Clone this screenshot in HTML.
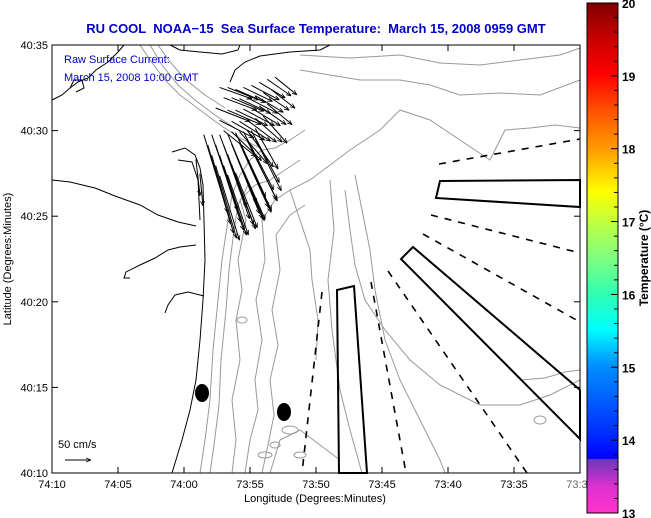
<!DOCTYPE html>
<html><head><meta charset="utf-8"><style>
body{margin:0;background:#fff;width:651px;height:518px;overflow:hidden}
svg{display:block;font-family:"Liberation Sans",sans-serif}
</style></head><body>
<svg id="c" width="651" height="518">
<rect x="0" y="0" width="651" height="518" fill="#fff"/>
<defs>
<linearGradient id="cb" x1="0" y1="1" x2="0" y2="0">
<stop offset="0" stop-color="#ff33cc"/><stop offset="0.05" stop-color="#e030d0"/>
<stop offset="0.105" stop-color="#6a3ab8"/><stop offset="0.107" stop-color="#0000ff"/>
<stop offset="0.16" stop-color="#0030ff"/><stop offset="0.29" stop-color="#0090ff"/>
<stop offset="0.36" stop-color="#00ffff"/><stop offset="0.43" stop-color="#30ffb0"/>
<stop offset="0.5" stop-color="#80ff80"/><stop offset="0.57" stop-color="#c0ff40"/>
<stop offset="0.63" stop-color="#ffff00"/><stop offset="0.71" stop-color="#ffa000"/>
<stop offset="0.79" stop-color="#ff5000"/><stop offset="0.86" stop-color="#ff0000"/>
<stop offset="0.93" stop-color="#c80000"/><stop offset="1" stop-color="#800000"/>
</linearGradient>
<marker id="ah" viewBox="0 0 10 10" refX="10" refY="5" markerWidth="5" markerHeight="5" orient="auto"><path d="M0,1 L10,5 L0,9" fill="none" stroke="#000" stroke-width="1.5"/></marker>
</defs>
<text x="316" y="33" text-anchor="middle" font-size="13" font-weight="bold" fill="#0000c8" style="white-space:pre" xml:space="preserve">RU COOL  NOAA−15  Sea Surface Temperature:  March 15, 2008 0959 GMT</text>
<g id="map" fill="none">
<g stroke="#999" stroke-width="1">
<polyline points="200,473 205,440 210,400 213,350 218,300 222,260 228,220 232,195 240,175 250,160 262,150 275,148 290,140 305,130"/>
<polyline points="210,473 214,445 219,405 221,360 226,310 229,270 234,230 238,205 248,185"/>
<polyline points="232,473 236,440 232,400 240,360 236,320 242,290 238,260 246,220 240,200 255,185 270,180 285,170 300,160"/>
<polyline points="245,473 250,440 258,410 255,380 262,340 256,300 265,260 262,220 275,200 290,190 310,180 330,165 350,150 380,130 400,110 430,120 460,140 490,160 505,130 530,128 555,125 580,128"/>
<polyline points="262,473 268,445 274,415 270,380 278,345 272,310 280,270 276,235 290,215 305,205"/>
<polyline points="140,45 150,60 165,80 180,95 200,110 220,125 240,138 260,148"/>
<polyline points="150,45 162,65 178,85 195,100 215,115 235,128"/>
<polyline points="158,45 170,62 186,80 205,95 225,108"/>
<polyline points="300,70 330,75 360,80 400,80 430,85 460,95 500,93 540,95 580,80"/>
<polyline points="300,55 350,58 400,55 440,63 480,65 520,60 560,55 580,48"/>
<polyline points="345,190 350,230 355,265 365,300 385,330 410,360 440,385 480,405 520,405 550,395 580,380"/>
<polyline points="330,180 334,230 328,280 332,330 340,390 350,430 362,473"/>
<polyline points="355,175 362,210 370,250 375,290 385,340 400,380 420,420 440,460 445,473"/>
<polyline points="290,190 300,220 310,250 312,280 318,320 316,360"/>
<polyline points="270,473 280,440 300,430 320,445 340,460"/>
<polyline points="520,380 545,378 565,372 580,370"/>
<ellipse cx="290" cy="430" rx="8" ry="4"/><ellipse cx="265" cy="455" rx="7" ry="3"/><ellipse cx="300" cy="455" rx="6" ry="3"/>
<ellipse cx="242" cy="320" rx="5" ry="3"/><ellipse cx="275" cy="445" rx="5" ry="3"/><ellipse cx="540" cy="420" rx="6" ry="4"/>
</g>
<g stroke="#000" stroke-width="1">
<polyline points="52,100 62,95 70,88 78,82 88,78 96,70 108,62 118,52 124,45"/>
<polyline points="70,88 74,80 82,80 84,88 76,92"/>
<polyline points="170,45 180,50 200,52 222,54 238,50 240,45"/>
<polyline points="230,82 235,70 245,62 260,56 290,52 320,50 330,45"/>
<polyline points="172,152 185,148 195,155 200,168 203,185 204,220 205,260 203,300 200,340 196,380 190,410 182,440 172,473"/>
<polyline points="178,160 192,162 198,180 200,220"/>
<polyline points="52,180 70,182 95,188 115,196 140,205 158,215 178,222 196,226"/>
<polyline points="196,245 180,247 168,250 155,258 140,265 126,272 124,278 130,278"/>
<polyline points="204,296 188,292 175,295 168,305 165,313"/>
</g>
<g stroke="#000" stroke-width="2">
<polygon points="337,290 354,286 367,473 339,473"/>
<polygon points="401,259 413,247 580,390 580,439"/>
<polygon points="440,181 580,180 580,207 436,198"/>
</g>
<g stroke="#000" stroke-width="1.6" stroke-dasharray="7,7">
<line x1="322" y1="292" x2="302" y2="473"/>
<line x1="371" y1="282" x2="406" y2="473"/>
<line x1="388" y1="271" x2="527" y2="473"/>
<line x1="423" y1="234" x2="580" y2="322"/>
<line x1="431" y1="215" x2="580" y2="253"/>
<line x1="439" y1="164" x2="580" y2="139"/>
</g>
<ellipse cx="202" cy="393" rx="7" ry="9" fill="#000"/>
<ellipse cx="284" cy="412" rx="7" ry="9" fill="#000"/>
<g id="arrows" stroke="#000" stroke-width="1"></g>
<line x1="65" y1="460" x2="91" y2="460" stroke="#000" marker-end="url(#ah)"/>
<text x="58" y="448" font-size="11" fill="#000" stroke="none">50 cm/s</text>
</g>
<text x="64" y="63" font-size="11" fill="#0000c8">Raw Surface Current:</text>
<text x="64" y="81" font-size="11" fill="#0000c8">March 15, 2008 10:00 GMT</text>
<rect x="52" y="45" width="528" height="428" fill="none" stroke="#000" stroke-width="1"/>
<g id="axes" font-size="11" fill="#000"></g>
<text x="315" y="502" text-anchor="middle" font-size="11">Longitude (Degrees:Minutes)</text>
<text transform="translate(11,259) rotate(-90)" text-anchor="middle" font-size="11">Latitude (Degrees:Minutes)</text>
<rect x="587" y="3" width="31" height="510" fill="url(#cb)" stroke="#000"/>
<g id="cbt"></g>
<text transform="translate(648,258) rotate(-90)" text-anchor="middle" font-size="12" font-weight="bold">Temperature (°C)</text>
</svg>
<script>
const xTickLabels=["74:10","74:05","74:00","73:55","73:50","73:45","73:40","73:35","73:30"];
const yTickLabels=["40:10","40:15","40:20","40:25","40:30","40:35"];
const cbTicks=[13,14,15,16,17,18,19,20];
const arrowLon=[-73.955,-73.945,-73.935,-73.925,-73.915,-73.905,-73.895,-73.885,
 -73.950,-73.940,-73.930,-73.920,-73.910,-73.900,-73.890,
 -73.960,-73.945,-73.935,-73.925,-73.915,-73.905,-73.895,
 -73.955,-73.940,-73.930,-73.920,-73.910,-73.900,
 -73.950,-73.940,-73.930,-73.920,-73.910,
 -73.975,-73.965,-73.955,-73.945,-73.935,-73.925,-73.915,
 -73.970,-73.960,-73.950,-73.940,-73.930,-73.920,-73.910,
 -73.965,-73.955,-73.945,-73.935,-73.925,-73.915,
 -73.960,-73.950,-73.940,-73.930,-73.920,
 -73.955,-73.945,-73.935,-73.925,
 -73.985,-73.980];
const arrowLat=[40.542,40.542,40.540,40.542,40.544,40.547,40.550,40.552,
 40.532,40.532,40.531,40.532,40.534,40.537,40.540,
 40.522,40.520,40.520,40.521,40.522,40.524,40.526,
 40.510,40.509,40.509,40.510,40.512,40.514,
 40.500,40.499,40.499,40.500,40.502,
 40.496,40.496,40.496,40.497,40.498,40.499,40.500,
 40.486,40.486,40.486,40.487,40.488,40.490,40.492,
 40.476,40.476,40.477,40.478,40.480,40.482,
 40.466,40.466,40.467,40.469,40.471,
 40.456,40.457,40.459,40.461,
 40.472,40.458];
const arrowU=[62,60,58,56,54,50,46,42, 64,62,60,58,54,50,46, 66,64,62,60,56,52,48, 66,64,60,56,52,46, 62,58,54,50,44,
 46,50,52,56,58,58,54, 44,48,50,54,56,56,50, 42,46,50,52,54,50, 40,44,46,48,46, 38,40,42,42, 8,6];
const arrowV=[-22,-24,-25,-27,-28,-30,-32,-34, -24,-26,-28,-30,-32,-34,-36, -26,-28,-30,-32,-34,-36,-40, -34,-36,-38,-42,-46,-52, -50,-56,-62,-70,-78,
 -150,-146,-140,-134,-124,-112,-100, -152,-148,-142,-134,-124,-112,-100, -150,-144,-136,-126,-114,-100, -140,-134,-124,-112,-100, -124,-116,-106,-94, -70,-62];
const X0=52,PX_PER_DEG=792,LON0=-74.16667,Y0=45,PY_PER_DEG=1027,LAT0=40.58333,SCALE=0.52;
const xs=lon=>X0+(lon-LON0)*PX_PER_DEG;
const ys=lat=>Y0+(LAT0-lat)*PY_PER_DEG;
const NS="http://www.w3.org/2000/svg";
const ag=document.getElementById('arrows');
for(let i=0;i<arrowLon.length;i++){
 const x1=xs(arrowLon[i]),y1=ys(arrowLat[i]);
 const x2=x1+arrowU[i]*SCALE,y2=y1-arrowV[i]*SCALE;
 const l=document.createElementNS(NS,'line');
 l.setAttribute('x1',x1);l.setAttribute('y1',y1);l.setAttribute('x2',x2);l.setAttribute('y2',y2);
 l.setAttribute('marker-end','url(#ah)');
 
 
 ag.appendChild(l);
}
const ax=document.getElementById('axes');
xTickLabels.forEach((t,i)=>{
 const x=52+i*66;
 const a=document.createElementNS(NS,'line');
 a.setAttribute('x1',x);a.setAttribute('x2',x);a.setAttribute('y1',473);a.setAttribute('y2',467);a.setAttribute('stroke','#000');
 
 
 ax.appendChild(a);
 const b=document.createElementNS(NS,'line');
 b.setAttribute('x1',x);b.setAttribute('x2',x);b.setAttribute('y1',45);b.setAttribute('y2',51);b.setAttribute('stroke','#000');
 
 
 ax.appendChild(b);
 const s=document.createElementNS(NS,'text');
 s.setAttribute('x',x);s.setAttribute('y',488);s.setAttribute('text-anchor','middle');s.textContent=t;
 s.setAttribute('fill', i===8?'#666':'#000');
 
 
 ax.appendChild(s);
});
yTickLabels.forEach((t,i)=>{
 const y=473-i*85.6;
 const a=document.createElementNS(NS,'line');
 a.setAttribute('x1',52);a.setAttribute('x2',58);a.setAttribute('y1',y);a.setAttribute('y2',y);a.setAttribute('stroke','#000');
 
 
 ax.appendChild(a);
 const b=document.createElementNS(NS,'line');
 b.setAttribute('x1',574);b.setAttribute('x2',580);b.setAttribute('y1',y);b.setAttribute('y2',y);b.setAttribute('stroke','#000');
 
 
 ax.appendChild(b);
 const s=document.createElementNS(NS,'text');
 s.setAttribute('x',48);s.setAttribute('y',y+4);s.setAttribute('text-anchor','end');s.textContent=t;
 
 
 ax.appendChild(s);
});
const cg=document.getElementById('cbt');
const cy=v=>513-(v-13)*72.86;
for(let k=0;k<=35;k++){
 const v=13+k*0.2,y=cy(v);
 const l=document.createElementNS(NS,'line');
 l.setAttribute('x1',618);l.setAttribute('x2',k%5===0?611:614);l.setAttribute('y1',y);l.setAttribute('y2',y);l.setAttribute('stroke','#000');
 
 
 cg.appendChild(l);
}
cbTicks.forEach(v=>{
 const s=document.createElementNS(NS,'text');
 s.setAttribute('x',622);s.setAttribute('y',cy(v)+5);s.setAttribute('font-size','12');s.setAttribute('font-weight','bold');s.textContent=v;
 
 
 cg.appendChild(s);
});
</script>
</body></html>
